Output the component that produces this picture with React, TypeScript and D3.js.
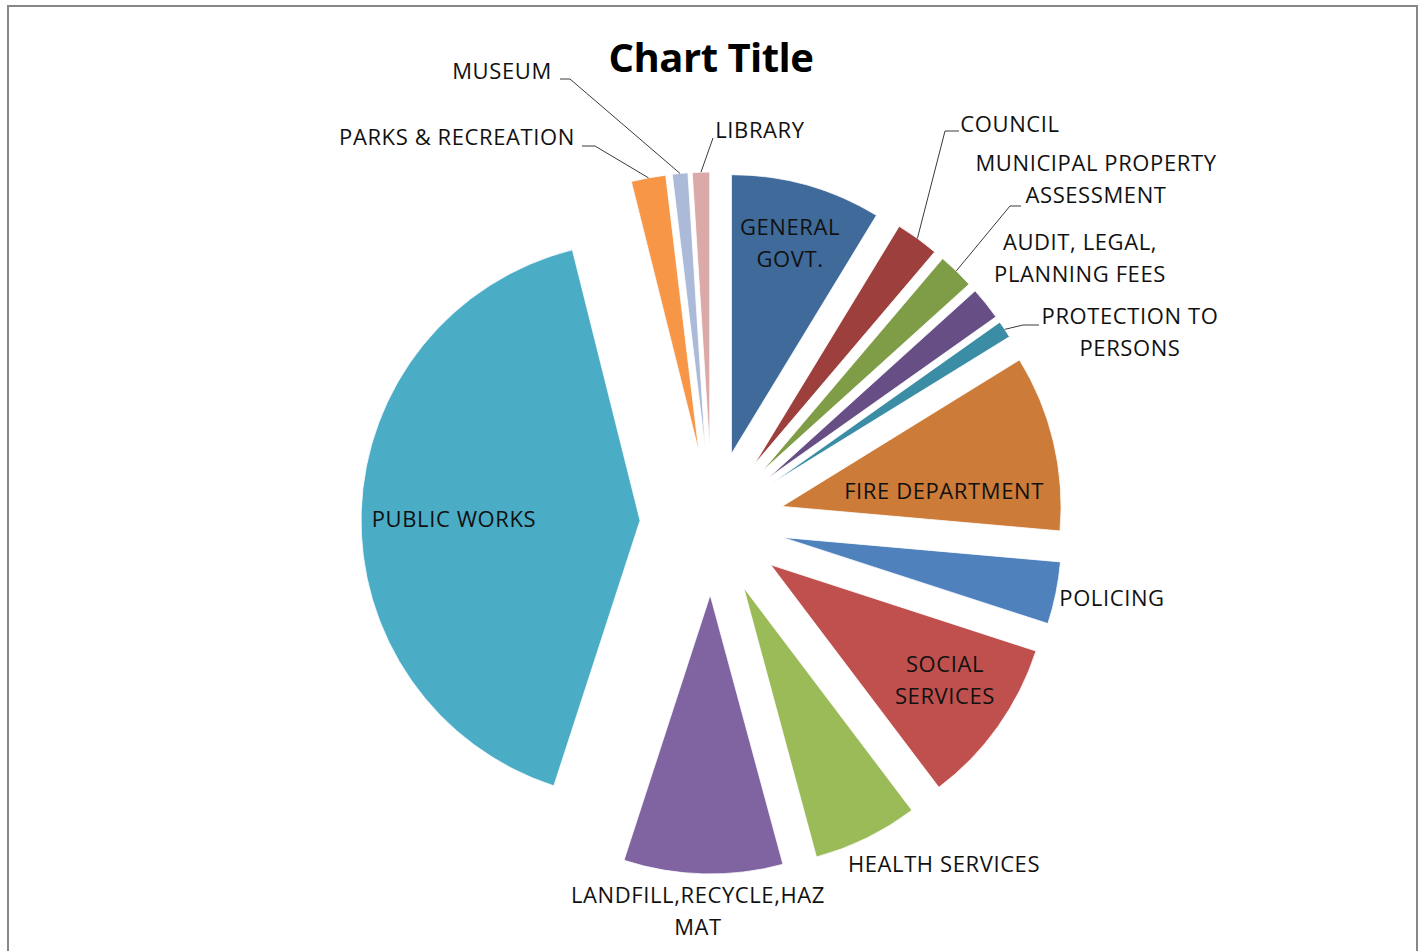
import * as d3 from "d3";

// spending share by department (% of budget), clockwise from 12 o'clock
const categories = [
  "GENERAL GOVT.",
  "COUNCIL",
  "MUNICIPAL PROPERTY ASSESSMENT",
  "AUDIT, LEGAL, PLANNING FEES",
  "PROTECTION TO PERSONS",
  "FIRE DEPARTMENT",
  "POLICING",
  "SOCIAL SERVICES",
  "HEALTH SERVICES",
  "LANDFILL,RECYCLE,HAZ MAT",
  "PUBLIC WORKS",
  "PARKS & RECREATION",
  "MUSEUM",
  "LIBRARY",
];
const values = [8.7, 2.5, 2.1, 1.9, 1.0, 10.2, 3.6, 9.7, 6.1, 9.2, 41.1, 2.0, 0.9, 1.0];
const colors = [
  "#3F6A9A", "#9D403D", "#7F9C47", "#674F86", "#3A8DA4", "#CC7B38",
  "#4F81BD", "#C0504D", "#9BBB59", "#8064A2", "#4BACC6", "#F79646",
  "#AABAD8", "#DBA9A8",
];

const title = "Chart Title";

// label placement relative to pie centre: text lines, anchor offset, optional leader bend points
type LabelLayout = {
  lines: string[];
  dx: number;
  dy: number;
  leader?: [number, number][];
};
const labelLayout: LabelLayout[] = [
  { lines: ["GENERAL", "GOVT."], dx: 78, dy: -288 },
  { lines: ["COUNCIL"], dx: 298, dy: -391, leader: [[233, -392], [247, -392]] },
  { lines: ["MUNICIPAL PROPERTY", "ASSESSMENT"], dx: 384, dy: -352, leader: [[298, -317], [309, -317]] },
  { lines: ["AUDIT, LEGAL,", "PLANNING FEES"], dx: 368, dy: -273 },
  { lines: ["PROTECTION TO", "PERSONS"], dx: 418, dy: -199, leader: [[311, -198], [327, -198]] },
  { lines: ["FIRE DEPARTMENT"], dx: 232, dy: -24 },
  { lines: ["POLICING"], dx: 400, dy: 83 },
  { lines: ["SOCIAL", "SERVICES"], dx: 233, dy: 149 },
  { lines: ["HEALTH SERVICES"], dx: 232, dy: 349 },
  { lines: ["LANDFILL,RECYCLE,HAZ", "MAT"], dx: -14, dy: 380 },
  { lines: ["PUBLIC WORKS"], dx: -258, dy: 4 },
  { lines: ["PARKS & RECREATION"], dx: -255, dy: -378, leader: [[-117, -377], [-130, -377]] },
  { lines: ["MUSEUM"], dx: -210, dy: -444, leader: [[-142, -444], [-152, -444]] },
  { lines: ["LIBRARY"], dx: 48, dy: -385, leader: [[1, -385]] },
];

const WIDTH = 1421;
const HEIGHT = 951;
const CX = 712;
const CY = 523;
const RADIUS = 279;
const EXPLODE = 72;
const LINE_H = 32;
const FONT = "'Open Sans', Lato, sans-serif";

export default function App() {
  const pie = d3
    .pie<number>()
    .sort(null)
    .value((d) => d)
    .startAngle(0)
    .endAngle(Math.PI * 2);
  const arcs = pie(values);
  const arc = d3.arc<d3.PieArcDatum<number>>().innerRadius(0).outerRadius(RADIUS);

  const polar = (angle: number, r: number): [number, number] => [
    Math.sin(angle) * r,
    -Math.cos(angle) * r,
  ];

  return (
    <svg
      width={WIDTH}
      height={HEIGHT}
      style={{ position: "absolute", left: 0, top: 0, background: "#fff" }}
    >
      <rect x={8} y={6} width={1409} height={980} fill="#fff" stroke="#878787" strokeWidth={2} />
      <text
        x={711}
        y={72}
        textAnchor="middle"
        fontFamily={FONT}
        fontWeight="bold"
        fontSize={40}
        letterSpacing={-0.5}
        fill="#000"
      >
        {title}
      </text>
      <g transform={`translate(${CX},${CY})`}>
        {arcs.map((a, i) => {
          const mid = (a.startAngle + a.endAngle) / 2;
          const [ox, oy] = polar(mid, EXPLODE);
          return (
            <path
              key={categories[i]}
              d={arc(a) ?? ""}
              transform={`translate(${ox},${oy})`}
              fill={colors[i]}
              stroke="#fff"
              strokeWidth={0.8}
            />
          );
        })}
        {arcs.map((a, i) => {
          const lay = labelLayout[i];
          if (!lay.leader) return null;
          const mid = (a.startAngle + a.endAngle) / 2;
          const start = polar(mid, RADIUS + EXPLODE);
          const pts = [start, ...lay.leader];
          return (
            <polyline
              key={`leader-${i}`}
              points={pts.map((p) => p.join(",")).join(" ")}
              fill="none"
              stroke="#3a3a3a"
              strokeWidth={1}
            />
          );
        })}
        {labelLayout.map((lay, i) => (
          <text
            key={`label-${i}`}
            x={lay.dx}
            y={lay.dy}
            textAnchor="middle"
            fontFamily={FONT}
            fontSize={22}
            letterSpacing={0.6}
            fill="#111"
          >
            {lay.lines.map((line, j) => (
              <tspan key={j} x={lay.dx} dy={j === 0 ? 0 : LINE_H}>
                {line}
              </tspan>
            ))}
          </text>
        ))}
      </g>
    </svg>
  );
}
